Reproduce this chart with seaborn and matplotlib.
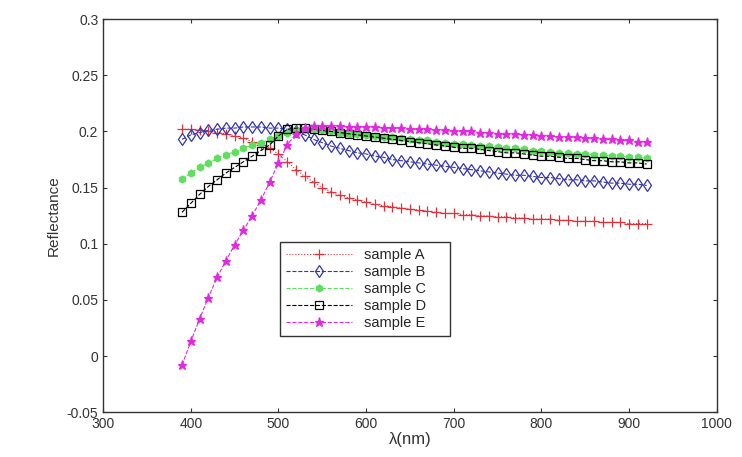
import pandas as pd
import matplotlib
matplotlib.use("Agg")
import matplotlib.pyplot as plt
import seaborn as sns

wavelength = list(range(390, 921, 10))

sample_a = [0.202, 0.202, 0.201, 0.200, 0.199, 0.198, 0.196, 0.194, 0.191, 0.188,
            0.185, 0.180, 0.173, 0.166, 0.160, 0.155, 0.150, 0.146, 0.143, 0.141,
            0.139, 0.137, 0.135, 0.134, 0.133, 0.132, 0.131, 0.130, 0.129, 0.128,
            0.127, 0.127, 0.126, 0.126, 0.125, 0.125, 0.124, 0.124, 0.123, 0.123,
            0.122, 0.122, 0.122, 0.121, 0.121, 0.120, 0.120, 0.120, 0.119, 0.119,
            0.119, 0.118, 0.118, 0.118]
sample_b = [0.193, 0.197, 0.199, 0.201, 0.202, 0.203, 0.203, 0.204, 0.204, 0.204,
            0.203, 0.203, 0.202, 0.200, 0.197, 0.193, 0.190, 0.187, 0.185, 0.183,
            0.181, 0.180, 0.178, 0.177, 0.175, 0.174, 0.173, 0.172, 0.171, 0.170,
            0.169, 0.168, 0.167, 0.166, 0.165, 0.164, 0.163, 0.162, 0.161, 0.161,
            0.160, 0.159, 0.159, 0.158, 0.157, 0.157, 0.156, 0.156, 0.155, 0.154,
            0.154, 0.153, 0.153, 0.152]
sample_c = [0.158, 0.163, 0.168, 0.172, 0.176, 0.179, 0.182, 0.185, 0.188, 0.190,
            0.193, 0.196, 0.199, 0.201, 0.202, 0.202, 0.201, 0.200, 0.199, 0.198,
            0.198, 0.197, 0.196, 0.195, 0.195, 0.194, 0.193, 0.192, 0.192, 0.191,
            0.190, 0.189, 0.189, 0.188, 0.187, 0.187, 0.186, 0.185, 0.185, 0.184,
            0.183, 0.183, 0.182, 0.181, 0.181, 0.180, 0.180, 0.179, 0.179, 0.178,
            0.178, 0.177, 0.177, 0.176]
sample_d = [0.128, 0.136, 0.144, 0.151, 0.157, 0.163, 0.168, 0.173, 0.178, 0.183,
            0.188, 0.196, 0.202, 0.203, 0.203, 0.202, 0.201, 0.200, 0.199, 0.198,
            0.197, 0.196, 0.195, 0.194, 0.193, 0.192, 0.191, 0.190, 0.189, 0.188,
            0.187, 0.186, 0.185, 0.185, 0.184, 0.183, 0.182, 0.181, 0.181, 0.180,
            0.179, 0.178, 0.178, 0.177, 0.176, 0.176, 0.175, 0.174, 0.174, 0.173,
            0.173, 0.172, 0.172, 0.171]
sample_e = [-0.008, 0.013, 0.033, 0.052, 0.070, 0.085, 0.099, 0.112, 0.125, 0.139,
            0.155, 0.172, 0.188, 0.198, 0.203, 0.205, 0.205, 0.205, 0.205, 0.204,
            0.204, 0.204, 0.204, 0.203, 0.203, 0.203, 0.202, 0.202, 0.202, 0.201,
            0.201, 0.200, 0.200, 0.200, 0.199, 0.199, 0.198, 0.198, 0.198, 0.197,
            0.197, 0.196, 0.196, 0.195, 0.195, 0.195, 0.194, 0.194, 0.193, 0.193,
            0.192, 0.192, 0.191, 0.191]

labels = ["sample A", "sample B", "sample C", "sample D", "sample E"]
series = [sample_a, sample_b, sample_c, sample_d, sample_e]

# colour, linestyle, marker, filled, size
styles = [
    ("#e0303a", ":", "+", True, 6.5),
    ("#3434b0", "--", "d", False, 6),
    ("#5ee05e", "--", "h", True, 5),
    ("#000000", "--", "s", False, 6),
    ("#e02ae0", "--", "*", True, 6.5),
]

sns.set_style("white")
plt.rcParams["font.family"] = ["Liberation Sans", "DejaVu Sans"]
plt.rcParams["xtick.direction"] = "in"
plt.rcParams["ytick.direction"] = "in"

fig = plt.figure(figsize=(7.42, 4.57), dpi=100)
ax = fig.add_axes([0.139, 0.098, 0.827, 0.86])

for lab, vals, (col, ls, mk, filled, ms) in zip(labels, series, styles):
    df = pd.DataFrame({"wavelength": wavelength, "reflectance": vals})
    kw = dict(markerfacecolor=col) if filled else dict(markerfacecolor="none")
    sns.lineplot(data=df, x="wavelength", y="reflectance", ax=ax, color=col,
                 linestyle=ls, linewidth=0.8, marker=mk, markersize=ms,
                 markeredgecolor=col, markeredgewidth=0.9, label=lab, **kw)

ax.set_xlim(300, 1000)
ax.set_ylim(-0.05, 0.3)
ax.set_xticks(range(300, 1001, 100))
ax.set_yticks([-0.05, 0, 0.05, 0.1, 0.15, 0.2, 0.25, 0.3])
ax.set_yticklabels(["-0.05", "0", "0.05", "0.1", "0.15", "0.2", "0.25", "0.3"])
ax.tick_params(labelsize=10, colors="#333333", length=3, top=True, right=True,
               bottom=True, left=True)
for sp in ax.spines.values():
    sp.set_color("#333333")
    sp.set_linewidth(1.0)

ax.set_xlabel("λ(nm)", fontsize=12, color="#333333", labelpad=1)
ax.set_ylabel("Reflectance", fontsize=11, color="#333333")

leg = ax.legend(loc="lower left", bbox_to_anchor=(0.277, 0.176, 0.30, 0.285),
                mode="expand", fontsize=10.5, handlelength=4.5, frameon=True,
                fancybox=False, edgecolor="black", borderpad=0.4,
                labelspacing=0.2)
leg.get_frame().set_linewidth(1.0)

fig.savefig("out.png", dpi=100)
